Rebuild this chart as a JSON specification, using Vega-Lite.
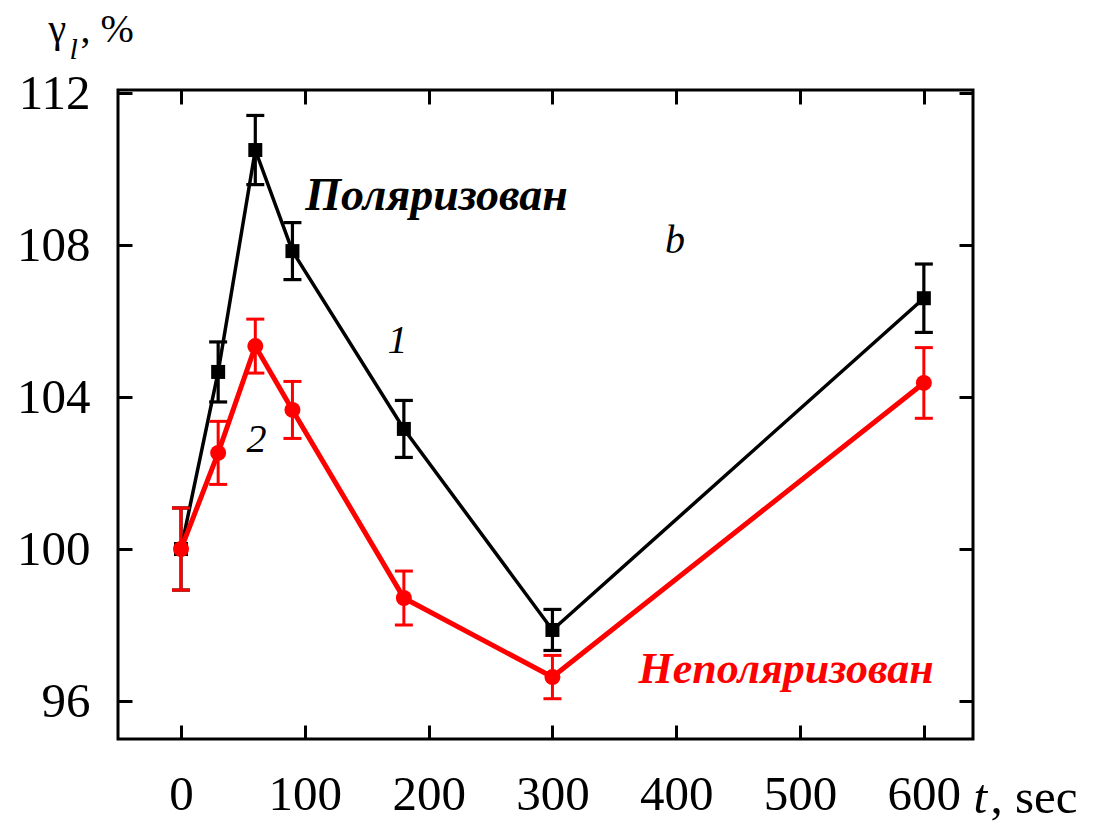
{
  "$schema": "https://vega.github.io/schema/vega-lite/v6.json",
  "width": 855,
  "height": 649,
  "autosize": {"type": "none"},
  "padding": {"left": 118, "top": 90, "right": 128, "bottom": 95},
  "background": "white",
  "config": {
    "view": {"stroke": "black", "strokeWidth": 3},
    "font": "Liberation Serif",
    "axis": {
      "domain": false, "grid": false, "tickSize": -14, "tickWidth": 3, "tickColor": "black",
      "labelFont": "Liberation Serif", "labelFontSize": 49, "labelColor": "black",
      "labelFlush": false, "labelOverlap": false, "labelBound": false,
      "titleFont": "Liberation Serif", "titleColor": "black", "titleFontWeight": "normal",
      "titleAngle": 0, "titleAlign": "left", "titleBaseline": "alphabetic"
    }
  },
  "datasets": {
    "s1": [
      {"t": 0, "v": 100.0, "lo": 98.92, "hi": 101.08},
      {"t": 30, "v": 104.66, "lo": 103.87, "hi": 105.45},
      {"t": 60, "v": 110.5, "lo": 109.59, "hi": 111.41},
      {"t": 90, "v": 107.84, "lo": 107.09, "hi": 108.59},
      {"t": 180, "v": 103.16, "lo": 102.41, "hi": 103.91},
      {"t": 300, "v": 97.87, "lo": 97.33, "hi": 98.41},
      {"t": 600, "v": 106.6, "lo": 105.7, "hi": 107.5}
    ],
    "s2": [
      {"t": 0, "v": 100.0, "lo": 98.92, "hi": 101.08},
      {"t": 30, "v": 102.53, "lo": 101.70, "hi": 103.36},
      {"t": 60, "v": 105.34, "lo": 104.63, "hi": 106.05},
      {"t": 90, "v": 103.66, "lo": 102.91, "hi": 104.41},
      {"t": 180, "v": 98.71, "lo": 98.00, "hi": 99.42},
      {"t": 300, "v": 96.63, "lo": 96.06, "hi": 97.20},
      {"t": 600, "v": 104.37, "lo": 103.44, "hi": 105.30}
    ]
  },
  "layer": [
    {
      "data": {"name": "s1"},
      "mark": {"type": "line", "color": "black", "strokeWidth": 3.5},
      "encoding": {
        "x": {"field": "t", "type": "quantitative", "scale": {"domain": [-50.9, 639.7], "nice": false, "zero": false},
              "axis": {"orient": "bottom", "values": [0, 100, 200, 300, 400, 500, 600], "labelPadding": 45,
                       "title": ", sec", "titleFontSize": 49, "titleX": 872, "titleY": 73}},
        "y": {"field": "v", "type": "quantitative", "scale": {"domain": [95, 112.08], "nice": false, "zero": false},
              "axis": {"orient": "left", "values": [96, 100, 104, 108, 112], "labelPadding": 42,
                       "title": "γ", "titleFontSize": 40, "titleX": -70, "titleY": -49}}
      }
    },
    {
      "data": {"name": "s1"},
      "mark": {"type": "errorbar", "color": "black", "opacity": 1, "rule": {"strokeWidth": 3.2, "color": "black", "opacity": 1}, "ticks": {"size": 18, "thickness": 3.2, "color": "black", "opacity": 1}},
      "encoding": {
        "x": {"field": "t", "type": "quantitative", "scale": {"domain": [-50.9, 639.7], "nice": false, "zero": false}, "axis": null},
        "y": {"field": "lo", "type": "quantitative", "scale": {"domain": [95, 112.08], "nice": false, "zero": false}, "axis": null},
        "y2": {"field": "hi"}
      }
    },
    {
      "data": {"name": "s1"},
      "mark": {"type": "point", "shape": "square", "filled": true, "color": "black", "size": 196, "opacity": 1},
      "encoding": {
        "x": {"field": "t", "type": "quantitative", "scale": {"domain": [-50.9, 639.7], "nice": false, "zero": false},
              "axis": {"orient": "top", "values": [0, 100, 200, 300, 400, 500, 600], "labels": false,
                       "title": "t", "titleFontStyle": "italic", "titleFontSize": 49, "titleX": 855, "titleY": 722}},
        "y": {"field": "v", "type": "quantitative", "scale": {"domain": [95, 112.08], "nice": false, "zero": false},
              "axis": {"orient": "right", "values": [96, 100, 104, 108, 112], "labels": false,
                       "title": "l", "titleFontStyle": "italic", "titleFontSize": 30, "titleX": -904, "titleY": -32}}
      }
    },
    {
      "data": {"name": "s2"},
      "mark": {"type": "errorbar", "color": "#ff0000", "opacity": 1, "rule": {"strokeWidth": 3, "color": "#ff0000", "opacity": 1}, "ticks": {"size": 18, "thickness": 3, "color": "#ff0000", "opacity": 1}},
      "encoding": {
        "x": {"field": "t", "type": "quantitative", "scale": {"domain": [-50.9, 639.7], "nice": false, "zero": false}, "axis": null},
        "y": {"field": "lo", "type": "quantitative", "scale": {"domain": [95, 112.08], "nice": false, "zero": false}, "axis": null},
        "y2": {"field": "hi"}
      }
    },
    {
      "data": {"name": "s2"},
      "mark": {"type": "line", "color": "#ff0000", "strokeWidth": 5},
      "encoding": {
        "x": {"field": "t", "type": "quantitative", "scale": {"domain": [-50.9, 639.7], "nice": false, "zero": false}, "axis": null},
        "y": {"field": "v", "type": "quantitative", "scale": {"domain": [95, 112.08], "nice": false, "zero": false}, "axis": null}
      }
    },
    {
      "data": {"name": "s2"},
      "mark": {"type": "point", "shape": "circle", "filled": true, "color": "#ff0000", "size": 256, "opacity": 1},
      "encoding": {
        "x": {"field": "t", "type": "quantitative", "scale": {"domain": [-50.9, 639.7], "nice": false, "zero": false}, "axis": null},
        "y": {"field": "v", "type": "quantitative", "scale": {"domain": [95, 112.08], "nice": false, "zero": false}, "axis": null}
      }
    },
    {
      "data": {"values": [{"label": "Поляризован", "t": 206.4, "v": 108.92}]},
      "mark": {"type": "text", "font": "Liberation Serif", "fontSize": 46, "fontWeight": "bold", "fontStyle": "italic", "color": "black", "align": "center", "baseline": "alphabetic"},
      "encoding": {
        "text": {"field": "label"},
        "x": {"field": "t", "type": "quantitative", "scale": {"domain": [-50.9, 639.7], "nice": false, "zero": false}, "axis": null},
        "y": {"field": "v", "type": "quantitative", "scale": {"domain": [95, 112.08], "nice": false, "zero": false},
              "axis": {"orient": "left", "ticks": false, "labels": false, "title": ", %", "titleFontSize": 40, "titleX": -38, "titleY": -49}}
      }
    },
    {
      "data": {"values": [{"label": "Неполяризован", "t": 488.7, "v": 96.47}]},
      "mark": {"type": "text", "font": "Liberation Serif", "fontSize": 44, "fontWeight": "bold", "fontStyle": "italic", "color": "#ff0000", "align": "center", "baseline": "alphabetic"},
      "encoding": {
        "text": {"field": "label"},
        "x": {"field": "t", "type": "quantitative", "scale": {"domain": [-50.9, 639.7], "nice": false, "zero": false}, "axis": null},
        "y": {"field": "v", "type": "quantitative", "scale": {"domain": [95, 112.08], "nice": false, "zero": false}, "axis": null}
      }
    },
    {
      "data": {"values": [
        {"label": "b", "t": 399, "v": 107.79},
        {"label": "1", "t": 174.8, "v": 105.16},
        {"label": "2", "t": 61, "v": 102.55}
      ]},
      "mark": {"type": "text", "font": "Liberation Serif", "fontSize": 40, "fontStyle": "italic", "color": "black", "align": "center", "baseline": "alphabetic"},
      "encoding": {
        "text": {"field": "label"},
        "x": {"field": "t", "type": "quantitative", "scale": {"domain": [-50.9, 639.7], "nice": false, "zero": false}, "axis": null},
        "y": {"field": "v", "type": "quantitative", "scale": {"domain": [95, 112.08], "nice": false, "zero": false}, "axis": null}
      }
    }
  ],
  "resolve": {"axis": {"x": "independent", "y": "independent"}}
}
